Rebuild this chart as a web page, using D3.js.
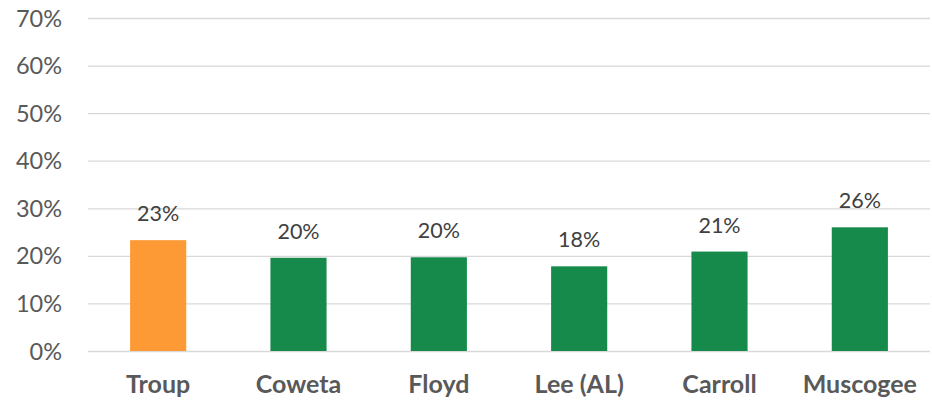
<!DOCTYPE html>
<html><head><meta charset="utf-8">
<script src="https://cdn.jsdelivr.net/npm/d3@7"></script>
<style>body{margin:0;background:#fff}svg{display:block}text{font-family:Lato,"Open Sans",sans-serif}</style>
</head><body><svg id="c" width="932" height="400"></svg>
<script>
const categories = ["Troup","Coweta","Floyd","Lee (AL)","Carroll","Muscogee"];
const values = [0.233, 0.196, 0.197, 0.178, 0.209, 0.26];
const labels = ["23%","20%","20%","18%","21%","26%"];
const colors = ["#FD9A35","#168A4B","#168A4B","#168A4B","#168A4B","#168A4B"];
const yTicks = [0,0.1,0.2,0.3,0.4,0.5,0.6,0.7];

const svg = d3.select("#c");
const m = {left:88, right:2, top:18, bottom:49};
const W = 932, H = 400;
const x = d3.scaleBand().domain(categories).range([m.left, W-m.right]).paddingInner(0.6).paddingOuter(0.3);
const y = d3.scaleLinear().domain([0,0.7]).range([H-m.bottom, m.top]);

const yAxis = svg.append("g").attr("transform",`translate(${m.left},0)`)
  .call(d3.axisLeft(y).tickValues(yTicks).tickFormat(d3.format(".0%")).tickSize(-(W-m.left-m.right)).tickPadding(26));
yAxis.select(".domain").remove();
yAxis.selectAll(".tick line").attr("stroke","#d9d9d9").attr("stroke-width",1.3);
yAxis.selectAll(".tick text").attr("fill","#595959").style("font-size","23.5px").attr("dy","0.34em");

svg.append("g").selectAll("text").data(categories).join("text")
  .attr("x",d=>x(d)+x.bandwidth()/2).attr("y",(d,i)=>y(values[i])-19)
  .attr("text-anchor","middle").attr("fill","#404040").style("font-size","21.5px")
  .text((d,i)=>labels[i]);

svg.append("g").selectAll("rect").data(categories).join("rect")
  .attr("x",d=>x(d)).attr("width",x.bandwidth())
  .attr("y",(d,i)=>y(values[i])).attr("height",(d,i)=>y(0)-y(values[i]))
  .attr("fill",(d,i)=>colors[i]);

const xAxis = svg.append("g").attr("transform",`translate(0,${H-m.bottom})`)
  .call(d3.axisBottom(x).tickSize(0).tickPadding(24));
xAxis.select(".domain").remove();
xAxis.selectAll(".tick text").attr("fill","#595959").style("font-size","25px").style("font-weight","bold").attr("dy","0.71em");
</script></body></html>
